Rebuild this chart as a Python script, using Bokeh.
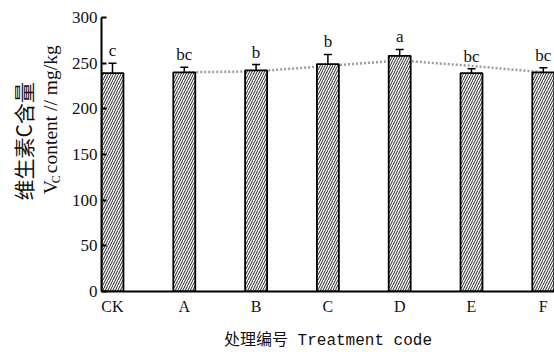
import math
from bokeh.plotting import figure
from bokeh.layouts import row
from bokeh.models import ColumnDataSource, Whisker, TeeHead, FixedTicker
from bokeh.embed import file_html
from bokeh.resources import INLINE
from bokeh.core.properties import value

# ---- data ----
categories = ["CK", "A", "B", "C", "D", "E", "F"]
vc_content = [239, 240, 242, 249, 258, 239, 240]
vc_error = [11, 5.5, 6.5, 10.5, 7, 5, 5]
sig_letters = ["c", "bc", "b", "b", "a", "bc", "bc"]
trend_categories = ["A", "B", "C", "D", "E", "F"]
trend_values = [240, 241, 247, 253, 247, 240]
y_ticks = [0, 50, 100, 150, 200, 250, 300]
y_title_cn = "维生素C含量"
y_title_main = "V"
y_title_sub = "C"
y_title_rest = "content // mg/kg"
x_title = "处理编号 Treatment code"

x_pos = list(range(len(categories)))
src = ColumnDataSource(dict(
    x=x_pos,
    top=vc_content,
    upper=[v + e for v, e in zip(vc_content, vc_error)],
    lower=[v - e for v, e in zip(vc_content, vc_error)],
    letter=sig_letters,
))
trend_x = [categories.index(c) for c in trend_categories]

SERIF = "Liberation Serif"
H = 352
LW = 68          # width of the y-title strip
W = 554 - LW     # width of the main plot

# ---- left strip holding the two-line y-axis title ----
t = figure(width=LW, height=H, output_backend="svg", toolbar_location=None,
           x_range=(0, LW), y_range=(0, H), x_axis_type=None, y_axis_type=None,
           min_border=0)
t.outline_line_color = None
t.xgrid.visible = False
t.ygrid.visible = False
t.text(x=[22], y=[193], text=[y_title_cn], angle=math.pi / 2,
       text_align="center", text_baseline="middle",
       text_font=value("Noto Sans CJK SC"), text_font_size="21px", text_color="#111111")
t.text(x=[50], y=[125], text=[y_title_main], angle=math.pi / 2,
       text_align="left", text_baseline="alphabetic",
       text_font=value(SERIF), text_font_size="19.5px", text_color="#111111")
t.text(x=[55], y=[139], text=[y_title_sub], angle=math.pi / 2,
       text_align="left", text_baseline="alphabetic",
       text_font=value(SERIF), text_font_size="12px", text_color="#111111")
t.text(x=[50], y=[152], text=[y_title_rest], angle=math.pi / 2,
       text_align="left", text_baseline="alphabetic",
       text_font=value(SERIF), text_font_size="19.5px", text_color="#111111")

# ---- main plot ----
p = figure(width=W, height=H, output_backend="svg", toolbar_location=None,
           x_range=(-0.153, 6.156), y_range=(0, 300),
           min_border_left=101 - LW, min_border_right=0, min_border_top=17,
           min_border_bottom=61)
p.xgrid.visible = False
p.ygrid.visible = False
p.outline_line_color = None
p.background_fill_color = "white"

# trend line (dotted grey)
p.line(x=trend_x, y=trend_values, line_color="#9c9c9c", line_width=2.5, line_dash="2 2")

# bars
p.vbar(x="x", top="top", width=0.306, source=src, fill_color="white",
       line_color="black", line_width=1.8,
       hatch_pattern="/", hatch_color="#222222", hatch_scale=5, hatch_weight=1)

# error bars
wh = Whisker(base="x", upper="upper", lower="lower", source=src,
             line_color="black", line_width=1.5,
             upper_head=TeeHead(size=8, line_width=1.5, line_color="black"),
             lower_head=TeeHead(size=8, line_width=1.5, line_color="black"))
p.add_layout(wh)

# significance letters
p.text(x="x", y="upper", text="letter", source=src, text_align="center",
       text_baseline="bottom", y_offset=-3, text_color="#111111",
       text_font=value(SERIF), text_font_size="17px")

# y axis
p.yaxis.ticker = FixedTicker(ticks=y_ticks)
p.yaxis.major_tick_in = 5
p.yaxis.major_tick_out = 0
p.yaxis.minor_tick_line_color = None
p.yaxis.axis_line_width = 2
p.yaxis.major_tick_line_width = 2
p.yaxis.major_label_text_font = SERIF
p.yaxis.major_label_text_font_size = "17px"
p.yaxis.major_label_text_color = "#111111"
p.yaxis.major_label_standoff = 4

# x axis
p.xaxis.ticker = FixedTicker(ticks=x_pos)
p.xaxis.major_label_overrides = {i: c for i, c in zip(x_pos, categories)}
p.xaxis.major_tick_in = 0
p.xaxis.major_tick_out = 0
p.xaxis.minor_tick_line_color = None
p.xaxis.axis_line_width = 2
p.xaxis.major_label_text_font = SERIF
p.xaxis.major_label_text_font_size = "16px"
p.xaxis.major_label_text_color = "#111111"
p.xaxis.major_label_standoff = 6
p.xaxis.axis_label = x_title
p.xaxis.axis_label_text_font = "Liberation Mono, Noto Sans CJK SC"
p.xaxis.axis_label_text_font_style = "normal"
p.xaxis.axis_label_text_font_size = "16px"
p.xaxis.axis_label_text_color = "#111111"
p.xaxis.axis_label_standoff = 14

layout = row(t, p, spacing=0)
open("out.html", "w").write(file_html(layout, INLINE))
